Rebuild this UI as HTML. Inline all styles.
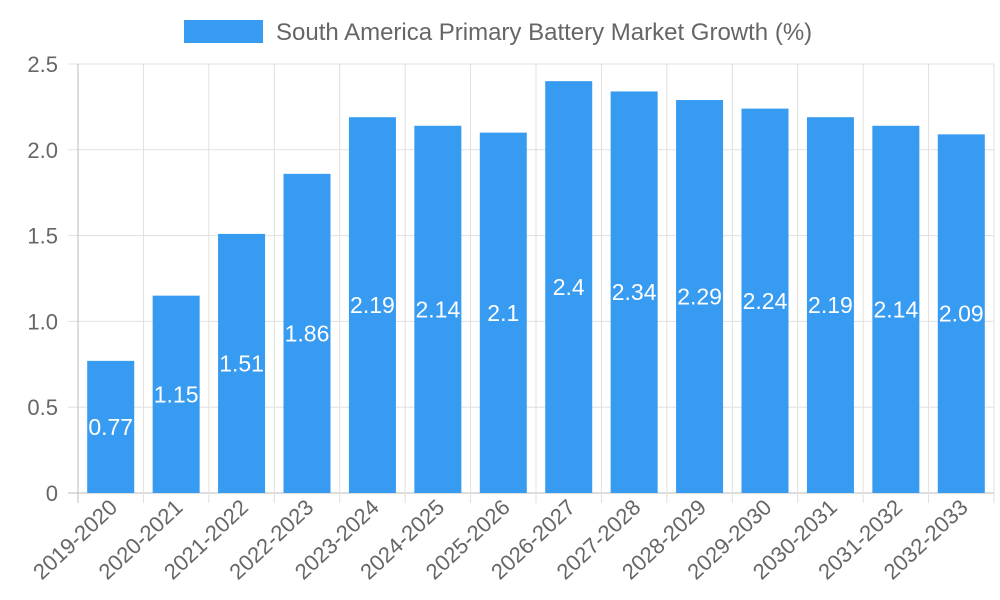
<!DOCTYPE html>
<html><head><meta charset="utf-8"><style>
body{margin:0;background:#fff;}
svg{display:block;font-family:"Liberation Sans",sans-serif;}
</style></head><body>
<svg id="chart" width="1000" height="600">
<g>
<rect x="184" y="20" width="79" height="23" fill="#379bf1"/>
<text x="276" y="40" font-size="24" fill="#666">South America Primary Battery Market Growth (%)</text>
</g>
<g id="grid"></g><g id="bars"></g><g id="labels"></g>
</svg>
<script>
const categories=["2019-2020","2020-2021","2021-2022","2022-2023","2023-2024","2024-2025","2025-2026","2026-2027","2027-2028","2028-2029","2029-2030","2030-2031","2031-2032","2032-2033"];
const values=[0.77,1.15,1.51,1.86,2.19,2.14,2.1,2.4,2.34,2.29,2.24,2.19,2.14,2.09];
const yTicks=[0,0.5,1.0,1.5,2.0,2.5];
const yTickLabels=["0","0.5","1.0","1.5","2.0","2.5"];
const NS="http://www.w3.org/2000/svg";
const L=78,R=994,T=64,B=493,yMax=2.5;
const bw=(R-L)/categories.length;
const y=v=>B-(v/yMax)*(B-T);
const xc=i=>L+bw*(i+0.5);
function mk(tag,attrs,parent,text){const e=document.createElementNS(NS,tag);for(const k in attrs)e.setAttribute(k,attrs[k]);if(text!==undefined)e.textContent=text;parent.appendChild(e);return e;}
const g=document.getElementById('grid'),gb=document.getElementById('bars'),gl=document.getElementById('labels');
yTicks.forEach((t,i)=>{
 const ln=mk('line',{x1:68,x2:R,y1:y(t),y2:y(t),stroke:i==0?'#bbb':'#e0e0e0','stroke-width':1},g);
 
 
 const tx=mk('text',{x:58,y:y(t)+8,'text-anchor':'end','font-size':22,fill:'#666'},g,yTickLabels[i]);
 
 
});
for(let i=0;i<=categories.length;i++){
 const x=L+bw*i;
 const ln=mk('line',{x1:x,x2:x,y1:T,y2:B+10,stroke:i==0?'#bbb':'#e0e0e0','stroke-width':1},g);
 
 
}
categories.forEach((c,i)=>{
 const w=47,x=xc(i)-w/2;
 const r=mk('rect',{x:x,y:y(values[i]),width:w,height:B-y(values[i]),fill:'#379bf1'},gb);
 
 
 const vt=mk('text',{x:xc(i),y:(y(values[i])+B)/2+8,'text-anchor':'middle','font-size':23,fill:'#fff'},gl,String(values[i]));
 
 
 const ct=mk('text',{x:0,y:0,'text-anchor':'end','font-size':22,fill:'#666',transform:`translate(${xc(i)+8},${B+16}) rotate(-43)`},gl,c);
 
 
});
</script>
</body></html>
